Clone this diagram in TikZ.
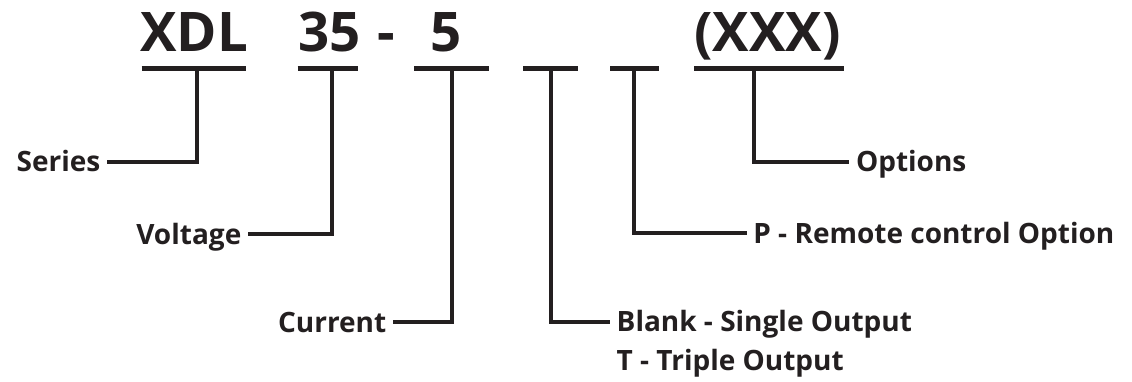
\documentclass[tikz,border=0pt]{standalone}
\usepackage{fontspec}
\setmainfont{Open Sans}
\usetikzlibrary{positioning}
\definecolor{ink}{HTML}{231F20}

\begin{document}
\begin{tikzpicture}[x=1pt,y=-1pt,font=\bfseries,
code/.style={text=ink,font=\fontsize{54.6}{60}\bfseries,inner sep=0pt,anchor=base},
lbl/.style={text=ink,font=\fontsize{28}{40}\bfseries,text height=20pt,text depth=0pt,inner ysep=0pt,inner xsep=6.5pt},
bar/.style={draw=ink,line width=4.6pt},
wire/.style={draw=ink,line width=4pt}]
\useasboundingbox (0,0) rectangle (1132,382);
% model code
\node[code] (xdl) at (194.4,51.7) {XDL};
\node[code] (volt) at (329.5,51.7) {35};
\node[code] (dash) at (386.5,51.7) {-};
\node[code] (amp) at (446.5,51.7) {5};
\node[code] (opt) at (767.5,51.7) {(XXX)};
% underlines and their taps
\draw[bar] (141.7,68.5)--(246,68.5);
\draw[bar] (297.7,68.5)--(357.7,68.5);
\draw[bar] (414,68.5)--(489,68.5);
\draw[bar] (523,68.5)--(578,68.5);
\draw[bar] (610,68.5)--(659,68.5);
\draw[bar] (694,68.5)--(844,68.5);
\coordinate (tapA) at (196.7,68.5);
\coordinate (tapB) at (332.3,68.5);
\coordinate (tapC) at (451.7,68.5);
\coordinate (tapD) at (550.7,68.5);
\coordinate (tapE) at (634.3,68.5);
\coordinate (tapF) at (753.7,68.5);
% labels
\node[lbl,anchor=east] (series) at (107,161.7) {Series};
\node[lbl,anchor=east] (voltage) at (248,234) {Voltage};
\node[lbl,anchor=east] (current) at (393,322.3) {Current};
\node[lbl,anchor=west] (blank) at (610,321.7) {Blank - Single Output};
\node[lbl,below=18.4pt of blank.south west,anchor=north west] (triple) {T - Triple Output};
\node[lbl,anchor=west] (remote) at (746.7,233.3) {P - Remote control Option};
\node[lbl,anchor=west] (options) at (849.3,161.7) {Options};
% leaders
\draw[wire] (tapA) |- (series);
\draw[wire] (tapB) |- (voltage);
\draw[wire] (tapC) |- (current);
\draw[wire] (tapD) |- (blank);
\draw[wire] (tapE) |- (remote);
\draw[wire] (tapF) |- (options);
\end{tikzpicture}
\end{document}
